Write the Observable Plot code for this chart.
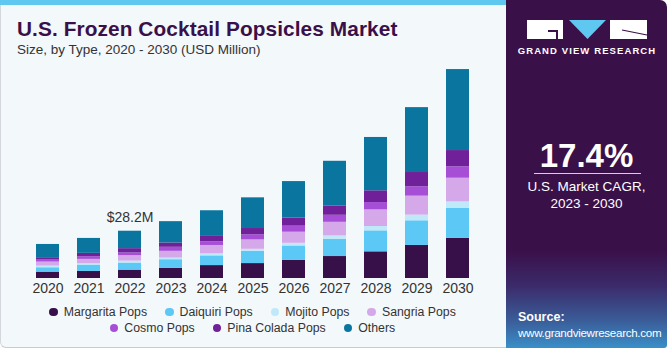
<!DOCTYPE html>
<html>
<head>
<meta charset="utf-8">
<script src="https://cdn.jsdelivr.net/npm/d3@7"></script>
<script src="https://cdn.jsdelivr.net/npm/@observablehq/plot@0.6"></script>
<style>
  html, body { margin: 0; padding: 0; }
  body { width: 670px; height: 350px; position: relative; overflow: hidden; background: #ffffff; font-family: "Liberation Sans", Arial, sans-serif; }
  #left { position: absolute; left: 0; top: 0; width: 506px; height: 348px; background: #f3f8fb; border-left: 1px solid #d4d8dc; border-bottom: 1px solid #c8ccd0; border-bottom-left-radius: 6px; box-sizing: border-box; }
  #strip { position: absolute; left: 0; top: 0; width: 506px; height: 5px; background: #5ec8f0; }
  #title { position: absolute; left: 17px; top: 17px; font-size: 20.8px; font-weight: bold; color: #3a1049; white-space: nowrap; letter-spacing: 0.1px; }
  #subtitle { position: absolute; left: 17px; top: 42px; font-size: 13.5px; color: #333; white-space: nowrap; }
  #chart { position: absolute; left: 0; top: 60px; }
  #legend { position: absolute; left: 0; top: 304px; width: 505px; font-size: 12.3px; color: #333; }
  .row { display: flex; justify-content: center; gap: 18px; height: 16px; line-height: 16px; }
  .item { display: flex; align-items: center; white-space: nowrap; }
  .dot { width: 8.5px; height: 8.5px; border-radius: 50%; margin-right: 6px; }
  #right { position: absolute; left: 506px; top: 0; width: 161px; height: 348px; border-top-right-radius: 7px; border-bottom-right-radius: 3px; overflow: hidden;
    background: linear-gradient(to bottom, #3a1049 0%, #3a1049 72%, #3b2a6a 82%, #3a5c98 92%, #3a8fc8 100%); }
  #right .big { position: absolute; left: 0; width: 161px; top: 137px; text-align: center; font-size: 33px; font-weight: bold; color: #fff; }
  #right .rule { position: absolute; left: 28px; width: 107px; top: 173px; height: 1px; background: #d8cce0; }
  #right .cagr { position: absolute; left: 0; width: 161px; top: 178px; text-align: center; font-size: 13.5px; line-height: 17px; color: #fff; }
  #right .src { position: absolute; left: 12px; top: 309px; font-size: 11.6px; line-height: 15px; color: #fff; letter-spacing: -0.3px; white-space: nowrap; }
  #right .src b { font-weight: bold; font-size: 12.5px; letter-spacing: 0; }
  #logo { position: absolute; left: 0; top: 0; }
</style>
</head>
<body>
<div id="left"></div>
<div id="strip"></div>
<div id="title">U.S. Frozen Cocktail Popsicles Market</div>
<div id="subtitle">Size, by Type, 2020 - 2030 (USD Million)</div>
<div id="chart"></div>
<div id="legend"></div>
<div id="right">
  <svg id="logo" width="161" height="60">
    <rect x="21" y="20" width="36" height="19" fill="#ffffff"/>
    <rect x="42" y="30" width="10" height="2" fill="#3a1049"/>
    <rect x="50" y="30" width="2" height="9" fill="#3a1049"/>
    <polygon points="63,20 100,20 81.5,39" fill="#5ec8f0"/>
    <rect x="104" y="20" width="37" height="19" fill="#ffffff"/>
    <line x1="116" y1="30" x2="141" y2="35" stroke="#3a1049" stroke-width="1.2"/>
    <text x="81" y="54" text-anchor="middle" fill="#ffffff" font-size="9.5" font-weight="bold" letter-spacing="1.1" font-family="Liberation Sans, Arial, sans-serif">GRAND VIEW RESEARCH</text>
  </svg>
  <div class="big">17.4%</div>
  <div class="rule"></div>
  <div class="cagr">U.S. Market CAGR,<br>2023 - 2030</div>
  <div class="src"><b>Source:</b><br>www.grandviewresearch.com</div>
</div>
<script>
const years = ["2020","2021","2022","2023","2024","2025","2026","2027","2028","2029","2030"];
const types = ["Margarita Pops","Daiquiri Pops","Mojito Pops","Sangria Pops","Cosmo Pops","Pina Colada Pops","Others"];
const colors = ["#37104a","#5bc8f5","#bfe8f8","#d5a8ea","#a64fd6","#70219a","#0a76a0"];
const margarita = [3.8, 4.2, 5.0, 6.0, 7.7, 8.9, 10.9, 13.1, 15.9, 19.7, 24.0];
const daiquiri  = [2.6, 3.8, 4.2, 5.2, 5.8, 7.3, 8.5, 10.3, 12.5, 14.7, 17.9];
const mojito    = [1.0, 0.8, 1.2, 1.0, 1.2, 1.2, 1.6, 2.0, 2.6, 3.4, 3.8];
const sangria   = [2.4, 2.6, 3.2, 4.0, 5.0, 5.6, 6.6, 8.1, 9.9, 11.3, 14.1];
const cosmo     = [1.2, 1.6, 1.6, 2.4, 2.2, 3.0, 3.6, 4.2, 4.4, 5.6, 6.8];
const pinaColada= [1.4, 2.0, 2.6, 2.6, 3.2, 3.8, 4.8, 5.4, 7.0, 8.5, 9.7];
const others    = [7.9, 8.9, 10.4, 12.7, 15.3, 18.3, 21.8, 26.8, 31.8, 38.7, 48.3];
const labelYear = "2022";

const seriesValues = [margarita, daiquiri, mojito, sangria, cosmo, pinaColada, others];
const data = [];
years.forEach((yr, i) => {
  types.forEach((t, j) => data.push({year: yr, type: t, value: seriesValues[j][i]}));
});
const totals = years.map((yr, i) => ({year: yr, total: d3.sum(seriesValues, s => s[i])}));
const labelData = totals.filter(d => d.year === labelYear);

const plot = Plot.plot({
  width: 500,
  height: 240,
  marginLeft: 13,
  marginRight: 8,
  marginTop: 0,
  marginBottom: 22,
  style: {background: "transparent", fontFamily: "Liberation Sans, Arial, sans-serif", color: "#333"},
  x: {domain: years, padding: 0.427, label: null},
  y: {domain: [0, 130], axis: null},
  color: {domain: types, range: colors},
  marks: [
    Plot.barY(data, {x: "year", y: "value", fill: "type", order: types}),
    Plot.text(labelData, {x: "year", y: "total", text: d => `$${d.total.toFixed(1)}M`, lineAnchor: "bottom", dy: -9, fontSize: 14, fill: "#333"}),
    Plot.axisX({tickSize: 0, tickPadding: 5, fontSize: 14, label: null})
  ]
});
document.getElementById("chart").appendChild(plot);

const legend = document.getElementById("legend");
const rows = [types.slice(0, 4), types.slice(4)];
rows.forEach(r => {
  const row = document.createElement("div");
  row.className = "row";
  r.forEach(t => {
    const item = document.createElement("div");
    item.className = "item";
    const dot = document.createElement("span");
    dot.className = "dot";
    dot.style.background = colors[types.indexOf(t)];
    item.appendChild(dot);
    item.appendChild(document.createTextNode(t));
    row.appendChild(item);
  });
  legend.appendChild(row);
});
</script>
</body>
</html>
